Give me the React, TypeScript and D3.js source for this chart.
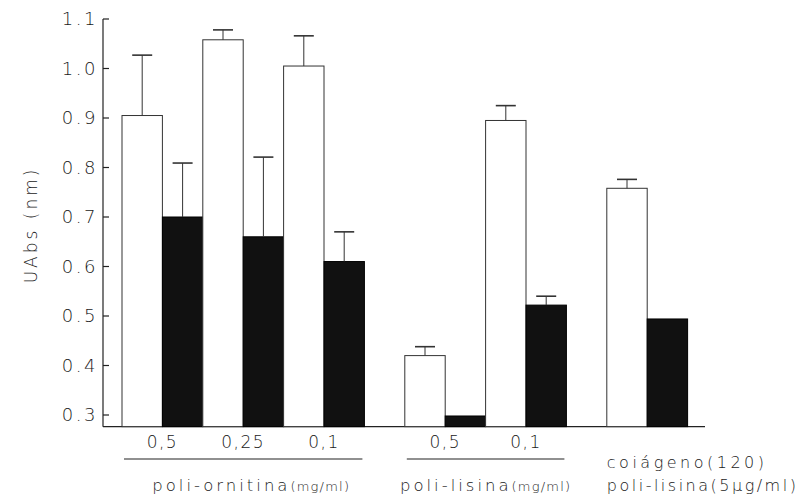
import React from "react";
import * as d3 from "d3";

const concentrations = ["0,5", "0,25", "0,1", "0,5", "0,1", ""];
const groupOf = [0, 0, 0, 1, 1, 2];
const groupLabels = ["poli-ornitina", "poli-lisina", ""];
const groupUnits = ["(mg/ml)", "(mg/ml)", ""];
const collagenLines = ["coiágeno(120)", "poli-lisina(5µg/ml)"];
const whiteValues = [0.905, 1.058, 1.005, 0.42, 0.895, 0.758];
const whiteErr = [0.122, 0.02, 0.061, 0.018, 0.03, 0.018];
const blackValues = [0.7, 0.66, 0.61, 0.298, 0.522, 0.494];
const blackErr = [0.109, 0.161, 0.06, 0.0, 0.018, 0.003];
const yTicks = [0.3, 0.4, 0.5, 0.6, 0.7, 0.8, 0.9, 1.0, 1.1];
const yLabel = "UAbs (nm)";

const W = 799;
const H = 498;
const FONT = "'DejaVu Sans', sans-serif";
const INK = "#1a1a1a";

export default function App() {
  const slots: string[] = [];
  concentrations.forEach((_, i) => {
    slots.push(`w${i}`, `b${i}`);
    if (i === concentrations.length - 1 || groupOf[i + 1] !== groupOf[i]) slots.push(`gap${groupOf[i]}`);
  });
  const x = d3.scaleBand<string>().domain(slots).range([122, 122 + slots.length * 40.4]).padding(0);
  const y = d3.scaleLinear().domain([0.3, 1.1]).range([415, 19]);
  const base = y(0.2765);
  const axisX = 103;
  const bw = x.bandwidth();

  const groupIdx = Array.from(new Set(groupOf));
  const groupExtent = (g: number) => {
    const idx = groupOf.map((gg, i) => (gg === g ? i : -1)).filter((i) => i >= 0);
    const x0 = x(`w${idx[0]}`)!;
    const x1 = x(`b${idx[idx.length - 1]}`)! + bw;
    return [x0, x1];
  };

  return (
    <svg width={W} height={H} style={{ position: "absolute", left: 0, top: 0, background: "#fff" }}>
      <rect x={0} y={0} width={W} height={H} fill="#fff" />
      <line x1={axisX} x2={axisX} y1={y(1.1)} y2={base} stroke="#222" strokeWidth={1.2} />
      <line x1={axisX} x2={705} y1={base} y2={base} stroke="#222" strokeWidth={1.4} />
      {yTicks.map((t) => (
        <g key={t}>
          <line x1={axisX} x2={axisX + 6} y1={y(t)} y2={y(t)} stroke="#222" strokeWidth={1.2} />
          <text
            x={axisX - 5}
            y={y(t)}
            dy="0.36em"
            textAnchor="end"
            fontFamily={FONT}
            fontSize={18}
            fontWeight={200}
            fill={INK}
            letterSpacing={2.5}
          >
            {t.toFixed(1)}
          </text>
        </g>
      ))}
      <text
        transform={`translate(31,${225}) rotate(-90)`}
        textAnchor="middle"
        dy="0.36em"
        fontFamily={FONT}
        fontSize={17}
        fontWeight={200}
        fill={INK}
        letterSpacing={3}
      >
        {yLabel}
      </text>

      {concentrations.map((c, i) => {
        const xw = x(`w${i}`)!;
        const xb = x(`b${i}`)!;
        const yw = y(whiteValues[i]);
        const yb = y(blackValues[i]);
        const ew = y(whiteValues[i] + whiteErr[i]);
        const eb = y(blackValues[i] + blackErr[i]);
        return (
          <g key={i}>
            <rect x={xw} y={yw} width={bw} height={base - yw} fill="#fff" stroke="#333" strokeWidth={1} />
            <rect x={xb} y={yb} width={bw} height={base - yb} fill="#111" stroke="#000" strokeWidth={1} />
            {whiteErr[i] > 0.004 && (
              <g stroke="#333" strokeWidth={1}>
                <line x1={xw + bw / 2} x2={xw + bw / 2} y1={yw} y2={ew} />
                <line x1={xw + bw / 2 - 10} x2={xw + bw / 2 + 10} y1={ew} y2={ew} strokeWidth={1.6} />
              </g>
            )}
            {blackErr[i] > 0.004 && (
              <g stroke="#333" strokeWidth={1}>
                <line x1={xb + bw / 2} x2={xb + bw / 2} y1={yb} y2={eb} />
                <line x1={xb + bw / 2 - 10} x2={xb + bw / 2 + 10} y1={eb} y2={eb} strokeWidth={1.6} />
              </g>
            )}
            {c && (
              <text
                x={xb}
                y={442}
                dy="0.36em"
                textAnchor="middle"
                fontFamily={FONT}
                fontSize={17}
                fontWeight={200}
                fill={INK}
                letterSpacing={1.5}
              >
                {c}
              </text>
            )}
          </g>
        );
      })}

      {groupIdx.map((g) => {
        if (!groupLabels[g]) return null;
        const [x0, x1] = groupExtent(g);
        return (
          <g key={g}>
            <line x1={x0 + 2} x2={x1 - 2} y1={459} y2={459} stroke="#222" strokeWidth={1.2} />
            <text
              x={(x0 + x1) / 2 + (g === 0 ? 8 : 0)}
              y={485}
              dy="0.36em"
              textAnchor="middle"
              fontFamily={FONT}
              fontSize={16.5}
              fontWeight={200}
              fill={INK}
              letterSpacing={3}
            >
              {groupLabels[g]}
              <tspan fontSize={13} letterSpacing={1.2}>{groupUnits[g]}</tspan>
            </text>
          </g>
        );
      })}
      {collagenLines.map((s, i) => (
        <text
          key={s}
          x={x(`w5`)!}
          y={462 + i * 23}
          dy="0.36em"
          textAnchor="start"
          fontFamily={FONT}
          fontSize={16}
          fontWeight={200}
          fill={INK}
          letterSpacing={i === 0 ? 3.5 : 2.5}
        >
          {s}
        </text>
      ))}
    </svg>
  );
}
